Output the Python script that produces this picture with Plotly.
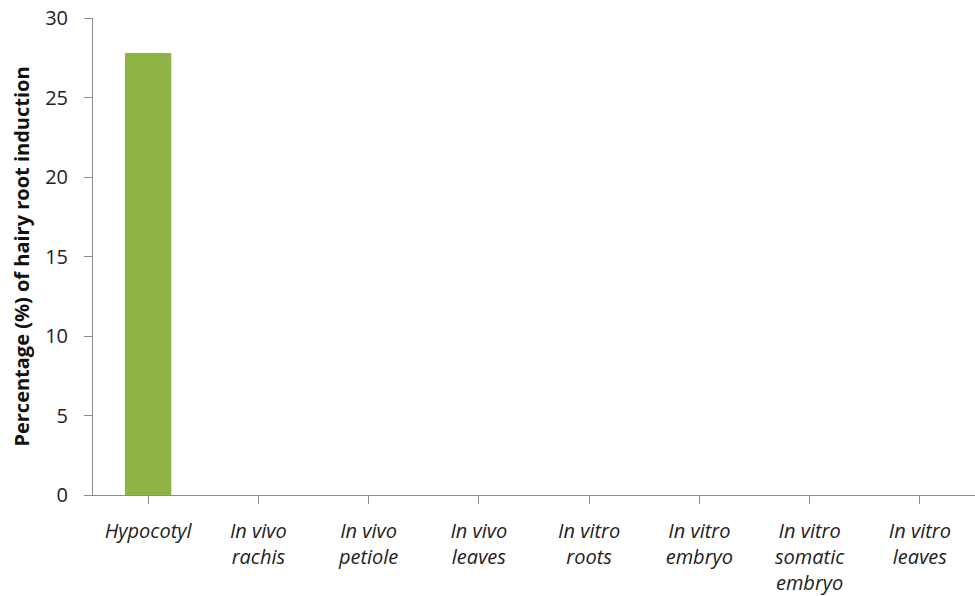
import plotly.graph_objects as go

categories = ["Hypocotyl", "In vivo<br>rachis", "In vivo<br>petiole", "In vivo<br>leaves",
              "In vitro<br>roots", "In vitro<br>embryo", "In vitro<br>somatic<br>embryo", "In vitro<br>leaves"]
values = [27.8, 0, 0, 0, 0, 0, 0, 0]
y_ticks = [0, 5, 10, 15, 20, 25, 30]

fig = go.Figure()
fig.add_trace(go.Bar(
    x=list(range(len(categories))), y=values, width=0.42,
    marker=dict(color="#8db444", line=dict(width=0)),
))

fig.update_layout(
    width=975, height=596,
    margin=dict(l=93, r=0, t=18, b=101),
    paper_bgcolor="white", plot_bgcolor="white",
    showlegend=False,
    font=dict(family="Open Sans, sans-serif", color="#222222", size=18),
    xaxis=dict(
        tickmode="array", tickvals=list(range(len(categories))),
        ticktext=["<i>" + c + "</i>" for c in categories],
        range=[-0.5, len(categories) - 0.5],
        showline=True, linecolor="#8c8c8c", linewidth=1,
        ticks="outside", tickson="boundaries", ticklen=8, tickcolor="#8c8c8c",
        showgrid=False, zeroline=False,
        tickfont=dict(size=20, color="#222222"),
        ticklabelstandoff=10,
    ),
    yaxis=dict(
        range=[0, 30], tickvals=y_ticks,
        showline=True, linecolor="#8c8c8c", linewidth=1,
        ticks="outside", ticklen=8, tickcolor="#8c8c8c",
        showgrid=False, zeroline=False,
        tickfont=dict(size=20, color="#222222"),
        ticklabelstandoff=12,
        title=dict(text="<b>Percentage (%) of hairy root induction</b>",
                   font=dict(size=20, color="#111111"), standoff=10),
    ),
)

fig.write_html("out.html")
